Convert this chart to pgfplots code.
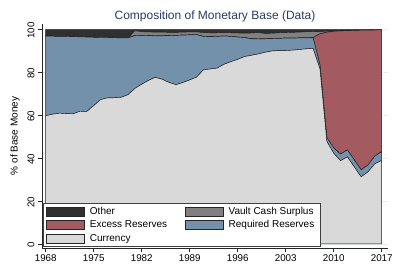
\documentclass[border=0pt]{standalone}
\usepackage{pgfplots}
\pgfplotsset{compat=1.18}
\usepackage{pgfplotstable}
\usepackage{fontspec}
\setmainfont{Liberation Sans}
\definecolor{curc}{RGB}{217,217,217}
\definecolor{reqc}{RGB}{115,145,170}
\definecolor{excc}{RGB}{163,90,96}
\definecolor{vltc}{RGB}{128,128,128}
\definecolor{othc}{RGB}{48,48,48}
\definecolor{titc}{RGB}{40,60,100}
\definecolor{gridc}{RGB}{234,240,242}
\pgfplotstableread{
year cur req exc vault other
1968 59.8 37.1 0 0 3.1
1969 60.5 36.4 0 0 3.1
1970 61.0 35.8 0 0 3.2
1971 60.8 36.0 0 0 3.2
1972 60.7 36.0 0 0 3.3
1973 61.9 34.7 0 0 3.4
1974 61.8 34.7 0 0 3.5
1975 64.5 31.9 0 0 3.6
1976 67.3 29.0 0 0 3.7
1977 68.1 28.2 0 0 3.7
1978 68.2 28.0 0 0 3.8
1979 68.4 27.7 0 0 3.9
1980 69.6 26.5 0 0 3.9
1981 72.5 24.7 0 2.3 0.5
1982 74.5 22.8 0 1.7 1.0
1983 76.3 20.9 0 1.7 1.1
1984 77.7 19.3 0 1.8 1.2
1985 76.8 20.3 0 1.7 1.2
1986 75.3 21.9 0 1.5 1.3
1987 74.3 23.0 0 1.4 1.3
1988 75.3 22.1 0 1.4 1.2
1989 76.5 21.0 0 1.4 1.1
1990 77.8 19.8 0 1.3 1.1
1991 81.2 15.6 0 1.8 1.4
1992 81.6 15.1 0 1.8 1.5
1993 82.0 14.8 0 1.7 1.5
1994 83.8 13.2 0 1.6 1.4
1995 85.0 11.8 0 1.7 1.5
1996 86.1 10.4 0 1.9 1.6
1997 87.4 8.9 0 2.0 1.7
1998 88.0 7.7 0 2.7 1.6
1999 88.6 7.0 0 3.0 1.4
2000 89.4 6.3 0 2.5 1.8
2001 90.0 5.8 0 2.5 1.7
2002 90.2 5.7 0 2.6 1.5
2003 90.2 5.8 0 2.6 1.4
2004 90.4 5.6 0 2.7 1.3
2005 90.7 5.4 0 2.7 1.2
2006 91.0 5.1 0 2.9 1.0
2007 91.2 4.9 0.2 2.8 0.9
2008 81.5 2.0 14.5 1.0 1.0
2009 47.8 1.8 49.2 0.5 0.7
2010 42.3 2.5 54.4 0.3 0.5
2011 38.8 3.1 57.5 0.2 0.4
2012 40.6 3.3 55.6 0.2 0.3
2013 35.9 3.3 60.4 0.1 0.3
2014 31.3 3.3 65.1 0.1 0.2
2015 33.6 3.2 62.9 0.1 0.2
2016 37.4 3.6 58.8 0.1 0.1
2017 38.9 4.2 56.7 0.1 0.1
}\datatable
\begin{document}
\begin{tikzpicture}
\useasboundingbox (-42pt,-30pt) rectangle (356pt,248pt);
\begin{axis}[
  at={(0pt,0pt)}, anchor=south west,
  scale only axis, width=346pt, height=224pt,
  xmin=1967.46, xmax=2017.92,
  ymin=-1.9, ymax=102.6,
  stack plots=y,
  axis x line*=bottom, axis y line*=left,
  axis line style={black!85, line width=0.5pt},
  xtick={1968,1975,1982,1989,1996,2003,2010,2017},
  ytick={0,20,40,60,80,100},
  xticklabel style={/pgf/number format/1000 sep={}, font=\fontsize{9.8}{11}\selectfont, yshift=1pt},
  yticklabel style={rotate=90, anchor=south, font=\fontsize{9.8}{11}\selectfont, xshift=-1pt},
  /pgf/number format/assume math mode=true,
  tick align=outside, major tick length=4pt,
  tick style={black!85, line width=0.5pt},
  ymajorgrids, grid style={gridc, line width=0.6pt},
  ylabel={\% of Base Money},
  ylabel style={font=\fontsize{10}{12}\selectfont, at={(rel axis cs:0,0.5)}, anchor=center, rotate=0, yshift=27pt},
  title={\color{titc}Composition of Monetary Base (Data)},
  every axis title shift=0pt,
  title style={font=\fontsize{12}{14}\selectfont, anchor=base, at={(rel axis cs:0.5,1)}, yshift=4pt},
  legend columns=2,
  legend cell align=left,
  legend style={at={(rel axis cs:0,0)}, anchor=south west, xshift=0.7pt, yshift=1.2pt,
    draw=black!75, line width=0.5pt, fill=white,
    font=\fontsize{10}{12}\selectfont,
    inner xsep=3.5pt, inner ysep=2pt,
    /tikz/every odd column/.append style={column sep=3pt},
    /tikz/every even column/.append style={column sep=16pt},
    row sep=0.6pt},
  legend image code/.code={\draw[#1, draw=black!85, line width=0.5pt] (0pt,-4.5pt) rectangle (38pt,4.5pt);},
  every axis plot/.append style={line width=0.45pt, draw=black!90},
]
\addplot[fill=curc, draw=black!90, forget plot] table[x=year, y=cur] {\datatable} \closedcycle;
\addplot[fill=reqc, draw=black!90, forget plot] table[x=year, y=req] {\datatable} \closedcycle;
\addplot[fill=excc, draw=black!90, forget plot] table[x=year, y=exc] {\datatable} \closedcycle;
\addplot[fill=vltc, draw=black!90, forget plot] table[x=year, y=vault] {\datatable} \closedcycle;
\addplot[fill=othc, draw=black!90, forget plot] table[x=year, y=other] {\datatable} \closedcycle;
\addlegendimage{fill=othc}\addlegendentry{Other}
\addlegendimage{fill=vltc}\addlegendentry{Vault Cash Surplus}
\addlegendimage{fill=excc}\addlegendentry{Excess Reserves}
\addlegendimage{fill=reqc}\addlegendentry{Required Reserves}
\addlegendimage{fill=curc}\addlegendentry{Currency}
\end{axis}
\end{tikzpicture}
\end{document}
